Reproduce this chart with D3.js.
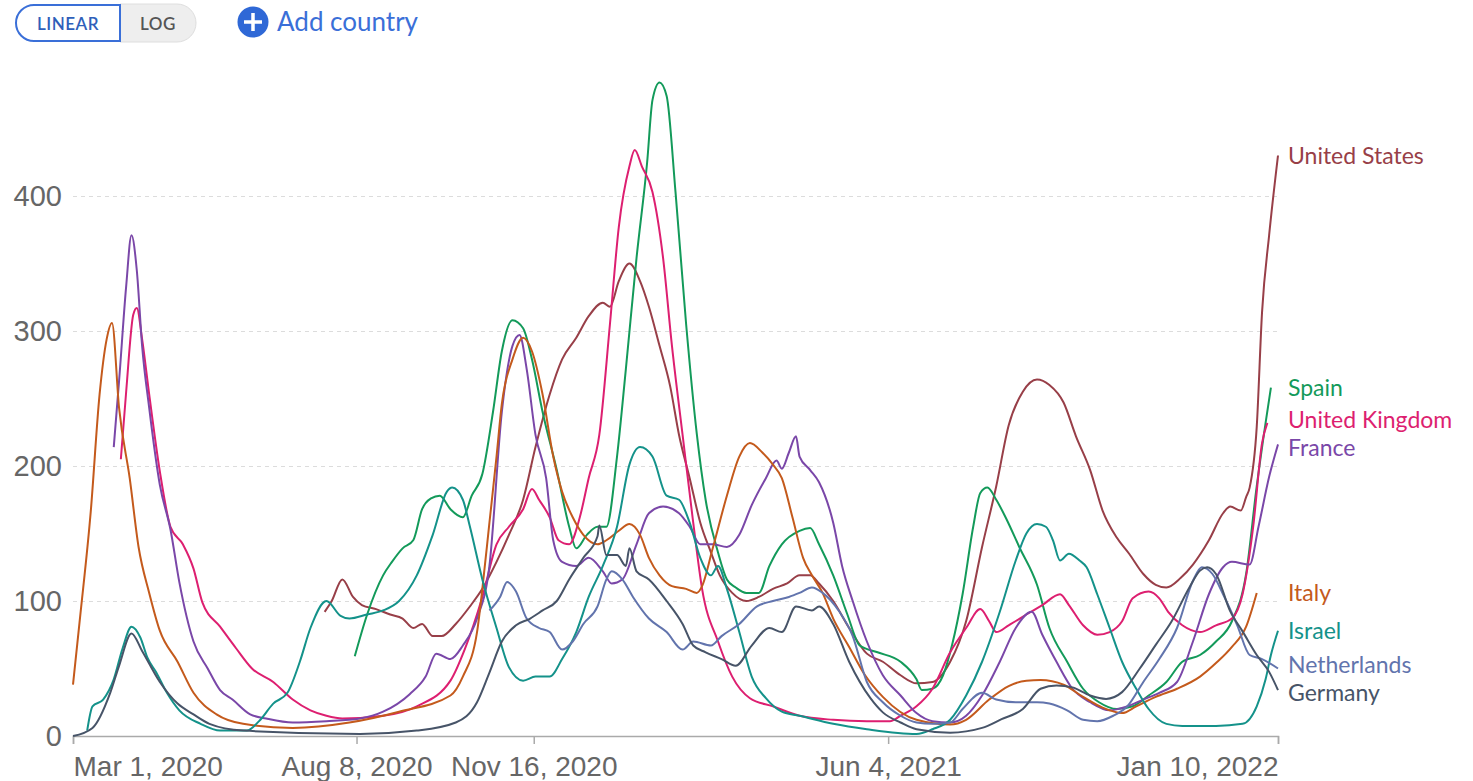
<!DOCTYPE html>
<html>
<head>
<meta charset="utf-8">
<script src="https://cdn.jsdelivr.net/npm/d3@7"></script>
<style>
  body { margin: 0; background: #fff; font-family: Lato, "Noto Sans", sans-serif; }
  .grid line { stroke: #dcdcdc; stroke-dasharray: 4,4; }
  .tick text { fill: #666; }
</style>
</head>
<body>
<div id="container"></div>
<script>
var w = 1473
var h = 781

// hospital patients per million
var unitedStates = [["2020-07-21",92],["2020-07-25",100],["2020-07-31",116],["2020-08-06",103],["2020-08-11",97],["2020-08-19",94],["2020-08-27",90],["2020-09-03",87],["2020-09-09",80],["2020-09-14",83],["2020-09-20",74],["2020-09-25",74],["2020-10-03",83],["2020-10-11",96],["2020-10-18",109],["2020-10-26",129],["2020-11-02",149],["2020-11-10",175],["2020-11-17",214],["2020-11-25",253],["2020-12-02",279],["2020-12-10",295],["2020-12-17",311],["2020-12-25",321],["2020-12-29",318],["2021-01-03",337],["2021-01-09",350],["2021-01-15",337],["2021-01-20",318],["2021-01-26",289],["2021-02-01",259],["2021-02-06",223],["2021-02-12",191],["2021-02-18",158],["2021-02-24",136],["2021-03-01",119],["2021-03-08",106],["2021-03-16",100],["2021-03-23",103],["2021-03-31",109],["2021-04-08",113],["2021-04-15",119],["2021-04-21",119],["2021-04-26",113],["2021-05-04",100],["2021-05-13",80],["2021-05-23",61],["2021-06-01",55],["2021-06-11",45],["2021-06-20",39],["2021-06-29",40],["2021-07-09",55],["2021-07-18",85],["2021-07-27",140],["2021-08-04",185],["2021-08-11",230],["2021-08-19",255],["2021-08-27",264],["2021-09-03",260],["2021-09-11",247],["2021-09-18",222],["2021-09-26",197],["2021-10-03",167],["2021-10-11",147],["2021-10-18",135],["2021-10-26",120],["2021-11-02",112],["2021-11-08",110],["2021-11-16",117],["2021-11-23",127],["2021-12-02",145],["2021-12-10",165],["2021-12-14",170],["2021-12-20",167],["2021-12-23",177],["2021-12-25",184],["2021-12-29",229],["2022-01-01",314],["2022-01-05",371],["2022-01-10",430]]

var spain = [["2020-08-07",59],["2020-08-14",90],["2020-08-23",119],["2020-08-28",129],["2020-09-03",139],["2020-09-09",145],["2020-09-14",168],["2020-09-19",176],["2020-09-24",178],["2020-09-30",168],["2020-10-07",162],["2020-10-12",178],["2020-10-18",194],["2020-10-24",240],["2020-10-29",285],["2020-11-04",308],["2020-11-10",302],["2020-11-15",279],["2020-11-21",240],["2020-11-29",197],["2020-12-06",155],["2020-12-10",139],["2020-12-16",149],["2020-12-22",155],["2020-12-27",155],["2021-01-02",207],["2021-01-07",272],["2021-01-13",354],["2021-01-19",425],["2021-01-22",471],["2021-01-26",484],["2021-01-30",474],["2021-02-04",403],["2021-02-10",305],["2021-02-16",224],["2021-02-21",175],["2021-02-28",136],["2021-03-05",116],["2021-03-10",110],["2021-03-16",106],["2021-03-23",106],["2021-03-29",126],["2021-04-05",142],["2021-04-15",152],["2021-04-21",154],["2021-04-26",142],["2021-05-04",119],["2021-05-12",90],["2021-05-19",67],["2021-05-29",62],["2021-06-11",55],["2021-06-20",42],["2021-06-23",34],["2021-06-29",35],["2021-07-05",45],["2021-07-10",67],["2021-07-16",105],["2021-07-22",155],["2021-07-26",180],["2021-07-30",184],["2021-08-04",175],["2021-08-10",160],["2021-08-17",140],["2021-08-27",112],["2021-09-03",80],["2021-09-13",55],["2021-09-22",35],["2021-10-01",25],["2021-10-11",20],["2021-10-20",22],["2021-10-29",30],["2021-11-08",40],["2021-11-17",55],["2021-11-27",60],["2021-12-06",70],["2021-12-15",85],["2021-12-23",120],["2021-12-29",185],["2022-01-03",232],["2022-01-06",258]]

var unitedKingdom = [["2020-03-28",205],["2020-03-31",255],["2020-04-04",312],["2020-04-06",317],["2020-04-09",294],["2020-04-13",253],["2020-04-19",196],["2020-04-25",155],["2020-05-02",142],["2020-05-08",124],["2020-05-13",99],["2020-05-23",81],["2020-06-01",65],["2020-06-10",50],["2020-06-22",40],["2020-07-03",27],["2020-07-13",19],["2020-07-22",15],["2020-07-31",13],["2020-08-23",15],["2020-09-11",22],["2020-09-30",41],["2020-10-08",64],["2020-10-18",103],["2020-10-26",142],["2020-11-02",155],["2020-11-10",168],["2020-11-15",183],["2020-11-19",175],["2020-11-25",162],["2020-11-30",145],["2020-12-06",142],["2020-12-12",162],["2020-12-17",191],["2020-12-23",223],["2020-12-29",305],["2021-01-03",377],["2021-01-09",422],["2021-01-12",434],["2021-01-16",422],["2021-01-22",403],["2021-01-28",354],["2021-02-02",289],["2021-02-08",223],["2021-02-14",158],["2021-02-19",109],["2021-02-28",70],["2021-03-08",44],["2021-03-18",28],["2021-03-31",22],["2021-04-15",15],["2021-05-04",12],["2021-05-23",11],["2021-06-05",11],["2021-06-11",15],["2021-06-20",22],["2021-06-29",35],["2021-07-09",62],["2021-07-18",80],["2021-07-26",94],["2021-07-31",85],["2021-08-04",77],["2021-08-11",82],["2021-08-21",90],["2021-08-30",97],["2021-09-09",105],["2021-09-14",97],["2021-09-22",82],["2021-09-30",75],["2021-10-07",77],["2021-10-14",85],["2021-10-20",102],["2021-10-29",107],["2021-11-04",102],["2021-11-09",92],["2021-11-17",82],["2021-11-27",77],["2021-12-06",82],["2021-12-15",87],["2021-12-21",105],["2021-12-27",155],["2022-01-01",217],["2022-01-04",232]]

var france = [["2020-03-24",214],["2020-03-27",263],["2020-03-31",333],["2020-04-03",371],["2020-04-06",345],["2020-04-09",289],["2020-04-13",243],["2020-04-19",186],["2020-04-25",153],["2020-04-30",114],["2020-05-08",70],["2020-05-16",50],["2020-05-23",34],["2020-05-30",27],["2020-06-09",16],["2020-06-18",13],["2020-07-03",10],["2020-07-22",11],["2020-08-10",13],["2020-08-23",18],["2020-09-07",31],["2020-09-16",44],["2020-09-22",61],["2020-09-30",57],["2020-10-07",67],["2020-10-15",87],["2020-10-22",126],["2020-10-29",240],["2020-11-04",289],["2020-11-08",297],["2020-11-12",272],["2020-11-17",223],["2020-11-23",191],["2020-11-27",145],["2020-12-02",129],["2020-12-10",126],["2020-12-17",132],["2020-12-25",122],["2020-12-30",113],["2021-01-05",116],["2021-01-13",142],["2021-01-20",165],["2021-01-28",170],["2021-02-06",165],["2021-02-12",155],["2021-02-18",142],["2021-02-25",142],["2021-03-05",140],["2021-03-12",149],["2021-03-19",171],["2021-03-27",191],["2021-04-02",204],["2021-04-05",198],["2021-04-09",210],["2021-04-13",222],["2021-04-15",207],["2021-04-21",197],["2021-04-26",188],["2021-05-04",158],["2021-05-09",126],["2021-05-15",100],["2021-05-23",70],["2021-06-01",45],["2021-06-11",30],["2021-06-20",17],["2021-06-29",11],["2021-07-09",10],["2021-07-18",15],["2021-07-27",30],["2021-08-06",55],["2021-08-15",80],["2021-08-24",92],["2021-08-30",75],["2021-09-07",55],["2021-09-16",35],["2021-09-26",25],["2021-10-07",19],["2021-10-17",22],["2021-10-26",27],["2021-11-04",32],["2021-11-14",40],["2021-11-23",70],["2021-12-02",105],["2021-12-10",125],["2021-12-15",129],["2021-12-25",127],["2021-12-30",155],["2022-01-05",192],["2022-01-10",216]]

var italy = [["2020-03-01",38],["2020-03-05",88],["2020-03-11",166],["2020-03-16",253],["2020-03-20",294],["2020-03-23",306],["2020-03-27",243],["2020-04-02",191],["2020-04-07",140],["2020-04-13",106],["2020-04-19",78],["2020-04-29",55],["2020-05-08",32],["2020-05-21",16],["2020-06-05",9],["2020-07-03",6],["2020-08-04",10],["2020-09-01",18],["2020-09-30",30],["2020-10-07",44],["2020-10-15",77],["2020-10-18",109],["2020-10-22",158],["2020-10-26",207],["2020-10-29",246],["2020-11-04",279],["2020-11-10",295],["2020-11-15",285],["2020-11-21",253],["2020-11-27",207],["2020-12-02",181],["2020-12-08",162],["2020-12-14",149],["2020-12-22",142],["2020-12-27",145],["2021-01-03",152],["2021-01-09",157],["2021-01-15",149],["2021-01-20",132],["2021-01-26",119],["2021-02-02",111],["2021-02-10",109],["2021-02-16",106],["2021-02-19",111],["2021-02-25",139],["2021-03-05",178],["2021-03-12",207],["2021-03-18",217],["2021-03-25",210],["2021-03-31",201],["2021-04-05",191],["2021-04-11",162],["2021-04-17",132],["2021-04-22",119],["2021-04-28",106],["2021-05-04",87],["2021-05-13",66],["2021-05-22",45],["2021-06-01",29],["2021-06-20",12],["2021-07-09",8.5],["2021-07-18",12],["2021-07-31",27],["2021-08-11",37],["2021-08-21",41],["2021-08-29",41.5],["2021-09-11",38],["2021-09-22",29],["2021-10-03",21],["2021-10-14",17],["2021-10-22",22],["2021-11-02",29],["2021-11-14",35],["2021-11-27",44],["2021-12-06",54],["2021-12-15",66],["2021-12-23",81],["2021-12-29",106]]

var israel = [["2020-03-09",4],["2020-03-12",22],["2020-03-18",27],["2020-03-24",42],["2020-03-29",65],["2020-04-03",81],["2020-04-08",73],["2020-04-12",58],["2020-04-17",47],["2020-04-23",32],["2020-04-30",19],["2020-05-12",9],["2020-05-23",4],["2020-06-07",4],["2020-06-14",11],["2020-06-22",24],["2020-06-30",32],["2020-07-07",55],["2020-07-13",80],["2020-07-22",100],["2020-07-30",89],["2020-08-04",87],["2020-08-14",90],["2020-08-23",93],["2020-09-01",100],["2020-09-11",119],["2020-09-20",149],["2020-09-28",181],["2020-10-01",184],["2020-10-07",175],["2020-10-11",155],["2020-10-18",116],["2020-10-26",80],["2020-11-02",51],["2020-11-10",41],["2020-11-17",44],["2020-11-25",44],["2020-12-02",57],["2020-12-10",77],["2020-12-17",103],["2020-12-25",126],["2021-01-02",155],["2021-01-09",201],["2021-01-15",214],["2021-01-22",207],["2021-01-30",178],["2021-02-06",175],["2021-02-12",158],["2021-02-18",132],["2021-02-24",119],["2021-02-28",126],["2021-03-05",109],["2021-03-12",77],["2021-03-19",44],["2021-03-27",28],["2021-04-05",18],["2021-04-15",15],["2021-05-04",9],["2021-05-23",5],["2021-06-20",1.5],["2021-06-29",5],["2021-07-09",12],["2021-07-18",30],["2021-07-27",55],["2021-08-06",92],["2021-08-15",130],["2021-08-21",150],["2021-08-27",157],["2021-09-01",155],["2021-09-05",145],["2021-09-09",130],["2021-09-14",135],["2021-09-20",130],["2021-09-24",125],["2021-09-30",105],["2021-10-07",80],["2021-10-14",55],["2021-10-22",35],["2021-10-29",20],["2021-11-08",9],["2021-11-17",7.5],["2021-12-06",7.5],["2021-12-21",9],["2021-12-29",22],["2022-01-03",42],["2022-01-06",60],["2022-01-10",78]]

var netherlands = [["2020-10-22",93],["2020-10-28",103],["2020-11-01",114],["2020-11-06",107],["2020-11-12",87],["2020-11-19",80],["2020-11-25",77],["2020-12-02",64],["2020-12-08",70],["2020-12-14",83],["2020-12-22",96],["2020-12-27",116],["2020-12-30",122],["2021-01-05",116],["2021-01-11",103],["2021-01-20",87],["2021-01-30",77],["2021-02-08",64],["2021-02-14",70],["2021-02-24",67],["2021-03-02",74],["2021-03-12",83],["2021-03-22",96],["2021-03-31",100],["2021-04-09",103],["2021-04-15",106],["2021-04-22",110],["2021-04-28",106],["2021-05-07",93],["2021-05-15",74],["2021-05-23",40],["2021-06-01",25],["2021-06-11",15],["2021-06-20",10],["2021-06-29",9],["2021-07-09",10],["2021-07-16",20],["2021-07-27",32],["2021-08-04",27],["2021-08-15",25],["2021-08-27",25],["2021-09-03",24],["2021-09-13",19],["2021-09-22",12],["2021-09-30",11],["2021-10-09",15],["2021-10-17",22],["2021-10-26",40],["2021-11-04",57],["2021-11-14",80],["2021-11-23",115],["2021-11-28",125],["2021-12-04",120],["2021-12-10",105],["2021-12-18",82],["2021-12-25",60],["2022-01-01",57],["2022-01-10",50]]

var germany = [["2020-03-01",0],["2020-03-12",6],["2020-03-22",32],["2020-03-27",52],["2020-04-03",76],["2020-04-09",63],["2020-04-19",40],["2020-04-29",24],["2020-05-08",16],["2020-05-17",9],["2020-06-05",4],["2020-08-10",1.5],["2020-09-11",4],["2020-10-03",10],["2020-10-15",25],["2020-10-22",47],["2020-10-29",70],["2020-11-06",82],["2020-11-14",87],["2020-11-21",93],["2020-11-29",100],["2020-12-06",116],["2020-12-14",132],["2020-12-22",148],["2020-12-23",156],["2020-12-27",134],["2021-01-02",134],["2021-01-07",126],["2021-01-09",139],["2021-01-13",122],["2021-01-20",116],["2021-01-30",100],["2021-02-08",83],["2021-02-14",67],["2021-02-21",62],["2021-03-02",57],["2021-03-10",52],["2021-03-19",67],["2021-03-29",80],["2021-04-05",77],["2021-04-13",96],["2021-04-22",93],["2021-04-26",96],["2021-05-04",83],["2021-05-13",55],["2021-05-25",28],["2021-06-01",17.5],["2021-06-11",10],["2021-06-20",5],["2021-07-09",2.5],["2021-07-27",6],["2021-08-07",12.5],["2021-08-19",20],["2021-08-29",35],["2021-09-07",37.5],["2021-09-16",36],["2021-09-26",30],["2021-10-05",27.5],["2021-10-14",32.5],["2021-10-24",50],["2021-11-02",67.5],["2021-11-11",85],["2021-11-21",110],["2021-11-27",122.5],["2021-12-01",125],["2021-12-06",120],["2021-12-14",92.5],["2021-12-21",77.5],["2021-12-29",60],["2022-01-05",47.5],["2022-01-10",34]]

var countries = ["United States", "Spain", "United Kingdom", "France", "Italy", "Israel", "Netherlands", "Germany"]
var colors = ["#983f48", "#139a5a", "#dd1f70", "#7a47a8", "#c45a1c", "#14928a", "#6274ad", "#475468"]
var seriesValues = [unitedStates, spain, unitedKingdom, france, italy, israel, netherlands, germany]

var yTicks = [0, 100, 200, 300, 400]
var xTicks = ["2020-03-01", "2020-08-08", "2020-11-16", "2021-06-04", "2022-01-10"]

var parse = d3.timeParse("%Y-%m-%d")

var svg = d3.select("#container").append("svg")
    .attr("width", w)
    .attr("height", h)
    .style("font-family", "Lato, 'Noto Sans', sans-serif")

var x = d3.scaleTime().domain([parse("2020-03-01"), parse("2022-01-10")]).range([73, 1278])
var y = d3.scaleLinear().domain([0, 500]).range([736, 61])

// top controls
var ctl = svg.append("g")
ctl.append("path")
    .attr("d", "M120,4 H177 A19,19 0 0 1 177,42 H120 Z")
    .attr("fill", "#eeeeee").attr("stroke", "#dedede").attr("stroke-width", 1)
ctl.append("path")
    .attr("d", "M120,5 H34 A18,18 0 0 0 34,41 H120 Z")
    .attr("fill", "#fff").attr("stroke", "#3a6fd8").attr("stroke-width", 2)
ctl.append("text").attr("x", 68).attr("y", 30).attr("text-anchor", "middle")
    .attr("fill", "#2f5fba").style("font-size", "17px").style("font-weight", 600)
    .style("letter-spacing", "0.5px").text("LINEAR")
ctl.append("text").attr("x", 158).attr("y", 30).attr("text-anchor", "middle")
    .attr("fill", "#555").style("font-size", "17px").style("font-weight", 600)
    .style("letter-spacing", "0.5px").text("LOG")
ctl.append("circle").attr("cx", 253).attr("cy", 22).attr("r", 15.5).attr("fill", "#2f68d6")
ctl.append("path").attr("d", "M253,13 V31 M244,22 H262")
    .attr("stroke", "#fff").attr("stroke-width", 3.5)
ctl.append("text").attr("x", 277).attr("y", 31)
    .attr("fill", "#3a6fd8").style("font-size", "26px").text("Add country")

// gridlines + y labels
var gy = svg.append("g")
    .attr("class", "grid")
    .attr("transform", "translate(73,0)")
    .call(d3.axisLeft(y).tickValues(yTicks).tickSize(-1207).tickPadding(11))
gy.select(".domain").remove()
gy.selectAll(".tick text").style("font-size", "29px")
gy.selectAll(".tick").filter(d => d === 0).select("line").remove()

// x axis
var gx = svg.append("g")
    .attr("transform", "translate(0,736)")
    .call(d3.axisBottom(x).tickValues(xTicks.map(parse)).tickSize(8).tickPadding(12)
        .tickFormat(d3.timeFormat("%b %-d, %Y")))
gx.select(".domain").attr("stroke", "#aaa").attr("stroke-width", 1.5)
gx.selectAll(".tick line").attr("stroke", "#aaa").attr("stroke-width", 1.5)
gx.selectAll(".tick text").style("font-size", "28px")
gx.selectAll(".tick text").filter((d, i) => i === 0).attr("text-anchor", "start")
gx.selectAll(".tick text").filter((d, i) => i === xTicks.length - 1).attr("text-anchor", "end")

// lines
var line = d3.line()
    .x(d => x(parse(d[0])))
    .y(d => y(d[1]))
    .curve(d3.curveMonotoneX)

var g = svg.append("g")
g.selectAll("path")
    .data(seriesValues)
    .enter()
    .append("path")
    .attr("d", line)
    .attr("fill", "none")
    .attr("stroke", (d, i) => colors[i])
    .attr("stroke-width", 2)
    .attr("stroke-linejoin", "round")

// end labels, nudged apart
var minGap = 28
var labels = countries.map(function (c, i) {
    var s = seriesValues[i]
    return { name: c, color: colors[i], y: y(s[s.length - 1][1]) }
})
labels.sort((a, b) => a.y - b.y)
for (var k = 0; k < 50; k++) {
    for (var j = 1; j < labels.length; j++) {
        var gap = labels[j].y - labels[j - 1].y
        if (gap < minGap) {
            var push = (minGap - gap) / 2
            labels[j].y += push
            labels[j - 1].y -= push
        }
    }
}
svg.append("g").selectAll("text")
    .data(labels)
    .enter()
    .append("text")
    .attr("x", 1288)
    .attr("y", d => d.y)
    .attr("dy", "0.35em")
    .attr("fill", d => d.color)
    .style("font-size", "23px")
    .text(d => d.name)
</script>
</body>
</html>
